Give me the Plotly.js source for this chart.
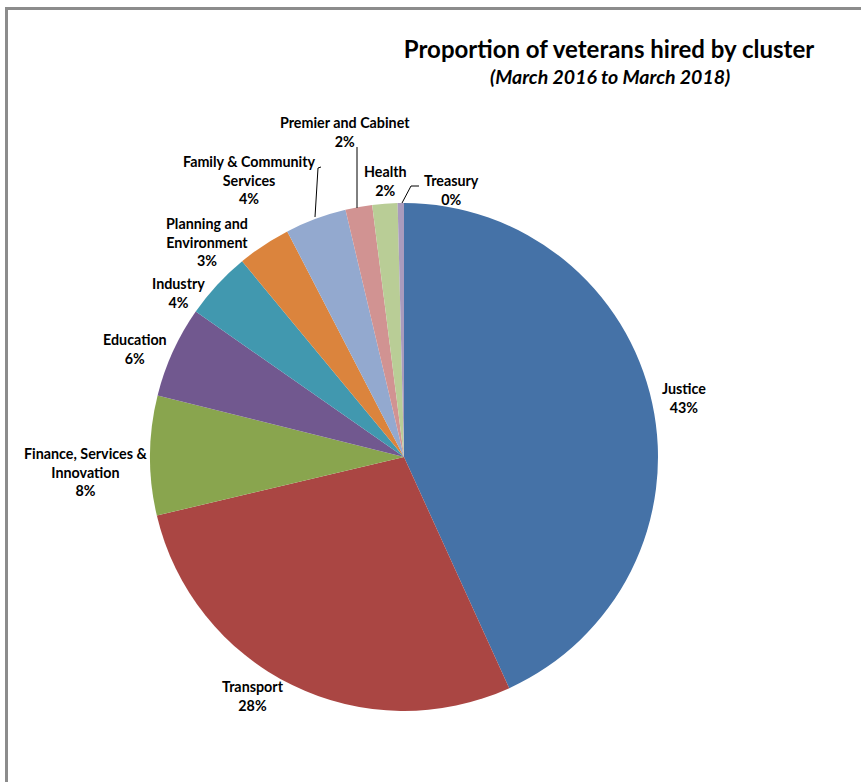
<!DOCTYPE html>
<html>
<head>
<meta charset="utf-8">
<script src="https://cdn.plot.ly/plotly-3.0.1.min.js"></script>
<style>
  html, body { margin: 0; padding: 0; background: #ffffff; }
  #chart { width: 861px; height: 782px; }
</style>
</head>
<body>
<div id="chart"></div>
<script>
// ---- data ----
const clusters = ["Justice", "Transport", "Finance, Services & Innovation", "Education", "Industry",
                  "Planning and Environment", "Family & Community Services", "Premier and Cabinet", "Health", "Treasury"];
const shares = [43.2, 28.1, 7.6, 5.8, 4.3, 3.4, 3.9, 1.7, 1.6, 0.4];
// label text as shown (line breaks as in the reference)
const labelLines = ["Justice", "Transport", "Finance, Services &<br>Innovation", "Education", "Industry",
                    "Planning and<br>Environment", "Family & Community<br>Services", "Premier and Cabinet", "Health", "Treasury"];
const sliceColors = ["#4572A7", "#AA4643", "#89A54E", "#71588F", "#4198AF",
                     "#DB843D", "#93A9CF", "#D19392", "#B9CD96", "#A99BBD"];

// ---- layout helpers (pixel positions of label centres) ----
const W = 861, H = 782;
const labelPos = [[684, 398], [253, 696], [85, 472], [135, 349], [178, 293],
                  [207, 242], [249, 180], [345, 132], [385, 181], [451, 190]];
const px = x => x / W;
const py = y => 1 - y / H;

const total = shares.reduce((a, b) => a + b, 0);
const labelFont = { family: "Lato, 'Open Sans', sans-serif", size: 14.3, color: "#000000" };

const annotations = clusters.map((c, i) => ({
  xref: "paper", yref: "paper",
  x: px(labelPos[i][0]), y: py(labelPos[i][1]),
  xanchor: "center", yanchor: "middle",
  text: "<b>" + labelLines[i] + "<br>" + Math.round(shares[i] / total * 100) + "%</b>",
  showarrow: false, align: "center", font: labelFont
}));
annotations.push({
  xref: "paper", yref: "paper", x: px(610), y: py(77), xanchor: "center", yanchor: "middle",
  text: "<b><i>(March 2016 to March 2018)</i></b>", showarrow: false,
  font: { family: "Lato, 'Open Sans', sans-serif", size: 19.5, color: "#000000" }
});

const lineStyle = { color: "#000000", width: 1 };
const shapes = [
  // chart frame (left and top edges visible)
  { type: "line", xref: "paper", yref: "paper", x0: px(6.5), x1: px(6.5), y0: py(8.5), y1: 0,
    line: { color: "#8c8c8c", width: 3 } },
  { type: "line", xref: "paper", yref: "paper", x0: px(5), x1: 1, y0: py(8.5), y1: py(8.5),
    line: { color: "#8c8c8c", width: 3 } },
  // leader lines
  { type: "path", xref: "paper", yref: "paper",
    path: `M ${px(321)} ${py(167)} L ${px(318)} ${py(168)} L ${px(315)} ${py(217)}`, line: lineStyle },
  { type: "line", xref: "paper", yref: "paper", x0: px(357), x1: px(357), y0: py(147), y1: py(208), line: lineStyle },
  { type: "path", xref: "paper", yref: "paper",
    path: `M ${px(419)} ${py(186)} L ${px(411)} ${py(186)} L ${px(402)} ${py(203)}`, line: lineStyle }
];

const trace = {
  type: "pie",
  labels: clusters,
  values: shares,
  sort: false,
  direction: "clockwise",
  rotation: 0,
  textinfo: "none",
  hoverinfo: "label+percent",
  marker: { colors: sliceColors, line: { width: 0 } },
  domain: { x: [150 / W, 658 / W], y: [py(711), py(203)] },
  showlegend: false
};

const layout = {
  width: W, height: H,
  margin: { l: 0, r: 0, t: 0, b: 0 },
  paper_bgcolor: "#ffffff",
  title: {
    text: "<b>Proportion of veterans hired by cluster</b>",
    x: px(609), xanchor: "center", xref: "paper",
    y: py(50), yanchor: "middle", yref: "paper",
    font: { family: "Lato, 'Open Sans', sans-serif", size: 24, color: "#000000" }
  },
  annotations: annotations,
  shapes: shapes,
  showlegend: false
};

Plotly.newPlot("chart", [trace], layout, { displayModeBar: false, staticPlot: true });
</script>
</body>
</html>
